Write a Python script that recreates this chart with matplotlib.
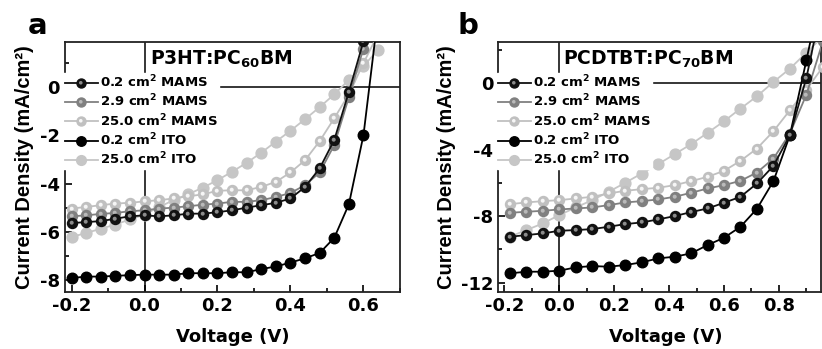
import matplotlib
matplotlib.use("Agg")
import numpy as np
import matplotlib.pyplot as plt
from matplotlib.path import Path
from matplotlib.ticker import MultipleLocator

plt.rcParams['font.family'] = ['DejaVu Sans']
plt.rcParams['font.weight'] = 'bold'
plt.rcParams['axes.unicode_minus'] = False
plt.rcParams['mathtext.fontset'] = 'custom'
plt.rcParams['mathtext.rm'] = 'DejaVu Sans:bold'
plt.rcParams['mathtext.bf'] = 'DejaVu Sans:bold'
plt.rcParams['mathtext.it'] = 'DejaVu Sans:bold'
plt.rcParams['mathtext.default'] = 'regular'

labels = ["0.2 cm$^2$ MAMS", "2.9 cm$^2$ MAMS", "25.0 cm$^2$ MAMS",
          "0.2 cm$^2$ ITO", "25.0 cm$^2$ ITO"]

# panel a: P3HT:PC60BM
va = [-0.20, -0.16, -0.12, -0.08, -0.04, 0.00, 0.04, 0.08, 0.12, 0.16, 0.20,
      0.24, 0.28, 0.32, 0.36, 0.40, 0.44, 0.48, 0.52, 0.56, 0.60, 0.64]
ja_mams02 = [-5.64, -5.60, -5.56, -5.46, -5.36, -5.32, -5.36, -5.32, -5.25, -5.25, -5.19,
             -5.11, -5.00, -4.90, -4.80, -4.62, -4.14, -3.37, -2.19, -0.20, 1.90, 4.5]
ja_mams29 = [-5.36, -5.32, -5.26, -5.22, -5.15, -5.11, -5.04, -5.00, -4.94, -4.88, -4.83,
             -4.76, -4.76, -4.69, -4.56, -4.39, -4.07, -3.54, -2.40, -0.42, 1.60, 4.0]
ja_mams25 = [-5.04, -4.97, -4.90, -4.83, -4.80, -4.74, -4.69, -4.62, -4.53, -4.45, -4.30,
             -4.28, -4.28, -4.14, -3.93, -3.54, -3.03, -2.24, -1.29, -0.30, 1.00, 2.20]
ja_ito02 = [-7.92, -7.86, -7.86, -7.83, -7.80, -7.78, -7.78, -7.78, -7.72, -7.72, -7.72,
            -7.68, -7.68, -7.55, -7.44, -7.28, -7.10, -6.88, -6.25, -4.86, -1.99, 3.0]
ja_ito25 = [-6.22, -6.05, -5.88, -5.70, -5.49, -5.29, -4.97, -4.69, -4.44, -4.17, -3.86,
            -3.51, -3.14, -2.72, -2.26, -1.81, -1.33, -0.83, -0.30, 0.30, 0.88, 1.54]

# panel b: PCDTBT:PC70BM
vb = [-0.18, -0.12, -0.06, 0.00, 0.06, 0.12, 0.18, 0.24, 0.30, 0.36, 0.42,
      0.48, 0.54, 0.60, 0.66, 0.72, 0.78, 0.84, 0.90, 0.96]
jb_mams02 = [-9.24, -9.14, -9.04, -8.88, -8.84, -8.78, -8.64, -8.48, -8.38, -8.20, -8.00,
             -7.76, -7.54, -7.20, -6.84, -6.04, -4.98, -3.14, 0.30, 5.0]
jb_mams29 = [-7.80, -7.74, -7.68, -7.60, -7.54, -7.48, -7.34, -7.18, -7.10, -7.00, -6.84,
             -6.60, -6.34, -6.14, -5.88, -5.38, -4.54, -3.04, -0.70, 2.5]
jb_mams25 = [-7.28, -7.18, -7.10, -7.04, -6.94, -6.84, -6.64, -6.48, -6.38, -6.30, -6.14,
             -5.90, -5.64, -5.28, -4.68, -3.94, -2.90, -1.64, -0.40, 0.96]
jb_ito02 = [-11.44, -11.34, -11.34, -11.28, -11.08, -11.00, -11.04, -10.94, -10.78, -10.54, -10.44,
            -10.24, -9.74, -9.30, -8.64, -7.56, -5.90, -3.14, 1.36, 6.0]
jb_ito25 = [-9.24, -8.84, -8.44, -7.94, -7.48, -7.04, -6.54, -6.00, -5.44, -4.88, -4.28,
            -3.68, -3.00, -2.30, -1.54, -0.80, 0.06, 0.86, 1.82, 2.8]

# (line/marker color, highlight color or None, marker size)
styles = [("#111111", "#8c8c8c", 7.2),
          ("#808080", "#bababa", 7.2),
          ("#c0c0c0", "#f6f6f6", 7.2),
          ("#000000", None, 7.6),
          ("#c6c6c6", None, 7.8)]

# off-centre highlight spot for the "ball" markers; the dummy MOVETO keeps the scale
spot = Path.circle((-0.08, 0.08), 0.2)
spot_marker = Path(np.vstack([[[0.5, 0.5]], spot.vertices]),
                   np.concatenate([[Path.MOVETO], spot.codes]))

fig = plt.figure(figsize=(8.22, 3.49), dpi=100)
ax_a = fig.add_axes([0.079, 0.1633, 0.4076, 0.7163])
ax_b = fig.add_axes([0.6062, 0.1633, 0.3925, 0.7163])


def draw_panel(ax, v, series, title, title_x):
    handles = [None] * len(series)
    # light curves first so the dark curves end on top
    for i in [4, 2, 1, 3, 0]:
        col, hl, ms = styles[i]
        ln, = ax.plot(v, series[i], '-', color=col, lw=1.3, marker='o', ms=ms,
                      mfc=col, mec=col, zorder=3)
        if hl is not None:
            dot, = ax.plot(v, series[i], ls='none', marker=spot_marker, ms=ms,
                           mfc=hl, mec='none', zorder=3)
            handles[i] = (ln, dot)
        else:
            handles[i] = ln
    ax.axhline(0, color='black', lw=1.1, zorder=2)
    ax.axvline(0, color='black', lw=1.1, zorder=2)
    leg = ax.legend(handles, labels, loc='upper left', bbox_to_anchor=(-0.005, 0.878),
                    borderaxespad=0, borderpad=0.1, frameon=True, fancybox=False,
                    framealpha=1, facecolor='white', edgecolor='white',
                    handlelength=2.5, handletextpad=0.15, markerscale=0.9,
                    labelspacing=0.2, prop={'weight': 'bold', 'size': 9.5})
    leg.set_zorder(5)
    ax.text(title_x, 0.93, title, transform=ax.transAxes, fontsize=13.5,
            fontweight='bold', va='center', ha='left', zorder=6)
    ax.tick_params(which='both', direction='in', top=False, right=False,
                   labelsize=13, width=1.2)
    ax.tick_params(which='major', length=5)
    ax.tick_params(which='minor', length=3)
    for s in ax.spines.values():
        s.set_linewidth(1.3)
        s.set_color('#222222')
    ax.set_xlabel('Voltage (V)', fontsize=13, fontweight='bold')
    ax.set_ylabel('Current Density (mA/cm²)', fontsize=14.5, fontweight='bold',
                  family='Liberation Sans')


draw_panel(ax_a, va, [ja_mams02, ja_mams29, ja_mams25, ja_ito02, ja_ito25],
           "P3HT:PC$_{60}$BM", 0.254)
ax_a.set_xlim(-0.218, 0.70)
ax_a.set_ylim(-8.5, 1.87)
ax_a.set_xticks([-0.2, 0.0, 0.2, 0.4, 0.6])
ax_a.set_xticklabels(["-0.2", "0.0", "0.2", "0.4", "0.6"])
ax_a.set_yticks([0, -2, -4, -6, -8])
ax_a.set_yticklabels(["0", "-2", "-4", "-6", "-8"])
ax_a.xaxis.set_minor_locator(MultipleLocator(0.1))
ax_a.yaxis.set_minor_locator(MultipleLocator(1))
ax_a.yaxis.set_label_coords(-0.093, 0.5)
ax_a.xaxis.set_label_coords(0.5, -0.145)

draw_panel(ax_b, vb, [jb_mams02, jb_mams29, jb_mams25, jb_ito02, jb_ito25],
           "PCDTBT:PC$_{70}$BM", 0.2)
ax_b.set_xlim(-0.222, 0.953)
ax_b.set_ylim(-12.56, 2.46)
ax_b.set_xticks([-0.2, 0.0, 0.2, 0.4, 0.6, 0.8])
ax_b.set_xticklabels(["-0.2", "0.0", "0.2", "0.4", "0.6", "0.8"])
ax_b.set_yticks([0, -4, -8, -12])
ax_b.set_yticklabels(["0", "-4", "-8", "-12"])
ax_b.xaxis.set_minor_locator(MultipleLocator(0.1))
ax_b.yaxis.set_minor_locator(MultipleLocator(2))
ax_b.yaxis.set_label_coords(-0.132, 0.5)
ax_b.xaxis.set_label_coords(0.52, -0.145)

for ax in (ax_a, ax_b):
    for lab in ax.get_xticklabels() + ax.get_yticklabels():
        lab.set_fontweight('bold')

fig.text(28 / 822, 1 - 26 / 349, 'a', fontsize=21, fontweight='bold', va='center', ha='left')
fig.text(457 / 822, 1 - 26 / 349, 'b', fontsize=21, fontweight='bold', va='center', ha='left')

fig.savefig('out.png', dpi=100)
